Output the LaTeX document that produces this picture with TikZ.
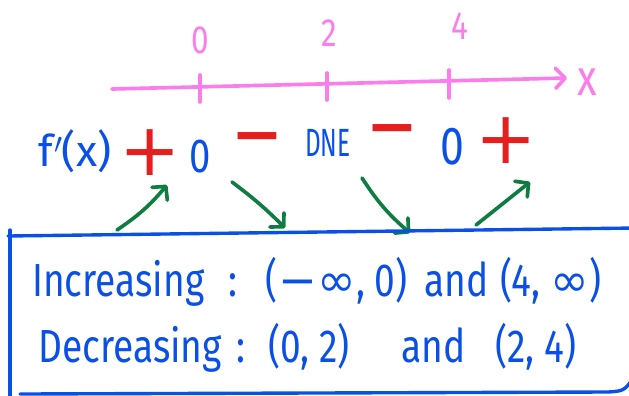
\documentclass[tikz,border=0pt]{standalone}
\usepackage{fontspec}
\setmainfont{Fira Sans}
\newfontfamily\symfont{DejaVu Sans}
\newfontfamily\handfont[FakeStretch=0.8]{Fira Sans}
\newfontfamily\narrowfont[FakeStretch=0.62]{Fira Sans}
\definecolor{axpink}{RGB}{250,125,235}
\definecolor{inkblue}{RGB}{10,80,230}
\definecolor{inkred}{RGB}{230,30,30}
\definecolor{inkgreen}{RGB}{15,125,65}
\usetikzlibrary{arrows.meta}

\begin{document}
\begin{tikzpicture}[x=0.025cm, y=-0.025cm,
  axln/.style={draw=axpink, line width=2.6pt, line cap=round},
  axlbl/.style={text=axpink, inner sep=0pt, font=\handfont\fontsize{28}{28}\selectfont},
  bluetxt/.style={text=inkblue, inner sep=0pt, font=\handfont\fontsize{34}{34}\selectfont},
  plussgn/.style={text=inkred, inner sep=0pt, font=\symfont\fontsize{52}{52}\selectfont},
  minussgn/.style={text=inkred, inner sep=0pt, font=\symfont\bfseries\fontsize{44}{44}\selectfont},
  arw/.style={-{Straight Barb[length=2.4mm, width=5mm, round]}, line width=2.6pt,
    inkgreen, line cap=round},
  boxln/.style={draw=inkblue, line width=2.4pt, line cap=round},
  rowtxt/.style={text=inkblue, inner sep=0pt, anchor=base west,
    font=\handfont\fontsize{33}{33}\selectfont},
]
\useasboundingbox (0,0) rectangle (629,395);
\clip (0,0) rectangle (629,395);
% number line
\coordinate (axL) at (112,89);
\coordinate (axR) at (567,78);
\draw[axln, -{Straight Barb[length=2.4mm, width=5mm, round]}] (axL) -- (axR);
\draw[axln] (200,75) -- (200,102);
\draw[axln] (327,73) -- (327,100);
\draw[axln] (449,70) -- (449,98);
\node[axlbl] (n0) at (200,40) {0};
\node[axlbl] (n2) at (329,33) {2};
\node[axlbl] (n4) at (460,26) {4};
\node[axlbl, font=\handfont\fontsize{36}{36}\selectfont] (xl) at (587,82) {x};
% sign chart
\node[bluetxt, font=\fontsize{31}{31}\selectfont] (fp) at (75,151) {f\kern1pt$'$\kern-1pt(x)};
\node[plussgn] (p1) at (150,153) {+};
\node[bluetxt] (z1) at (200,157) {0};
\node[minussgn] (m1) at (257,144) {−};
\node[bluetxt, font=\narrowfont\fontsize{28}{28}\selectfont] (dne) at (328,143) {DNE};
\node[minussgn] (m2) at (392,136) {−};
\node[bluetxt, font=\handfont\fontsize{38}{38}\selectfont] (z2) at (452,147) {0};
\node[plussgn] (p2) at (506,141) {+};
% trend arrows
\coordinate (a1s) at (117,230);
\coordinate (a1e) at (167,185);
\coordinate (a2s) at (232,182);
\coordinate (a2e) at (285,228);
\coordinate (a3s) at (362,178);
\coordinate (a3e) at (410,233);
\coordinate (a4s) at (476,225);
\coordinate (a4e) at (530,182);
\draw[arw] (a1s) to[bend right=8] (a1e);
\draw[arw] (a2s) to[bend left=4] (a2e);
\draw[arw] (a3s) to[bend right=8] (a3e);
\draw[arw] (a4s) -- (a4e);
% answer box
\draw[boxln] (10,230) -- (10,398);
\draw[boxln] (8,236) -- (635,228);
\draw[boxln] (20,394) -- (608,392) .. controls (624,391) .. (635,376);
\node[rowtxt] (inc) at (32,296) {Increasing};
\node[rowtxt] (ic) at (228,296) {:};
\node[rowtxt] (iv1) at (265,296) {(\kern1pt{\symfont−∞}, 0)};
\node[rowtxt] (iand) at (424,296) {and};
\node[rowtxt] (iv2) at (500,296) {(4, {\symfont∞})};
\node[rowtxt] (dec) at (38,362) {Decreasing};
\node[rowtxt] (dc) at (236,362) {:};
\node[rowtxt] (dv1) at (268,362) {(0, 2)};
\node[rowtxt] (dand) at (401,362) {and};
\node[rowtxt] (dv2) at (495,362) {(2, 4)};
\end{tikzpicture}
\end{document}
